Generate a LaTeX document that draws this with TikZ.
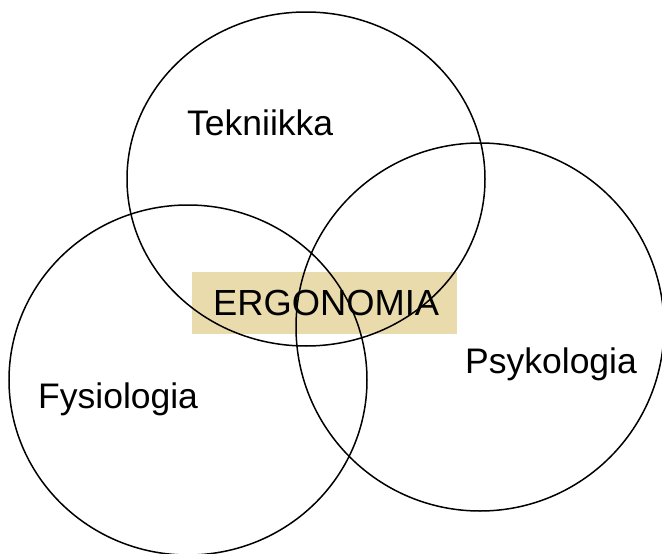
\documentclass[tikz,border=0pt]{standalone}
\usepackage{fontspec}
\setmainfont{Liberation Sans}
\definecolor{ergo}{RGB}{233,219,171}
\begin{document}
\begin{tikzpicture}[x=1pt,y=-1pt,
  ring/.style={draw=black,line width=1.5pt},
  lbl/.style={inner sep=0pt,anchor=base west,text=black,font=\fontsize{35.5}{40}\selectfont}]
\useasboundingbox (0,0) rectangle (662,554);
\fill[ergo] (192,272) rectangle (457,334);
\begin{scope}
\clip (0,0) rectangle (662,554);
\draw[ring] (306,179) ellipse [x radius=179, y radius=167];
\draw[ring] (188,380) ellipse [x radius=179, y radius=175];
\draw[ring] (480,327) ellipse [x radius=184, y radius=184];
\end{scope}
\node[lbl] (tek) at (187,135) {Tekniikka};
\node[lbl] (psy) at (465,373) {Psykologia};
\node[lbl] (fys) at (38,408) {Fysiologia};
\node[lbl,font=\fontsize{36.3}{40}\selectfont] (ergo) at (213,315) {ERGONOMIA};
\end{tikzpicture}
\end{document}
